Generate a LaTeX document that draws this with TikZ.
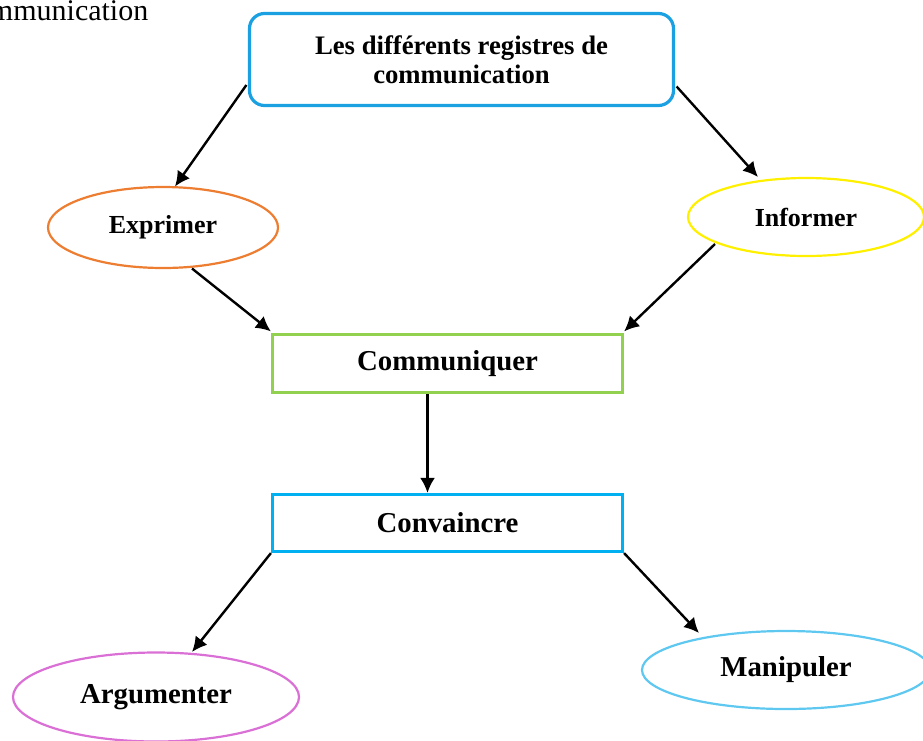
\documentclass[tikz,border=0pt]{standalone}
\usepackage{fontspec}
\setmainfont{Liberation Serif}
\usetikzlibrary{arrows.meta,calc,shapes.geometric}
\definecolor{topblue}{RGB}{27,161,226}
\definecolor{exorange}{RGB}{237,125,49}
\definecolor{infyellow}{RGB}{255,240,0}
\definecolor{comgreen}{RGB}{146,208,80}
\definecolor{convblue}{RGB}{0,176,240}
\definecolor{argpink}{RGB}{218,112,214}
\definecolor{manblue}{RGB}{94,200,240}
\begin{document}
\begin{tikzpicture}[x=1pt,y=-1pt,
  rectbox/.style={draw, rectangle, line width=3.2pt, inner sep=0pt, align=center},
  oval/.style={draw, ellipse, line width=2.2pt, inner sep=0pt, align=center},
  bigfont/.style={font=\bfseries\fontsize{28.8}{34}\selectfont},
  midfont/.style={font=\bfseries\fontsize{26}{30}\selectfont},
  arr/.style={line width=2.4pt, -{Latex[length=15pt,width=15pt]}}]
\useasboundingbox (0,0) rectangle (923,740);
\clip (0,0) rectangle (923,740);

\node[anchor=base east, inner sep=0pt, font=\fontsize{30}{34}\selectfont] (cut) at (148.5,20) {communication};

\node[rectbox, draw=topblue, rounded corners=15pt, minimum width=424pt, minimum height=92pt,
      font=\bfseries\fontsize{26.7}{29}\selectfont] (top) at (461.5,59.5)
      {Les différents registres de\\communication};

\node[oval, draw=exorange, minimum width=230pt, minimum height=81pt, midfont] (ex) at (163,227.5) {Exprimer};
\node[oval, draw=infyellow, minimum width=236pt, minimum height=78pt, midfont] (inf) at (806,217) {Informer};

\node[rectbox, draw=comgreen, minimum width=350pt, minimum height=58pt, bigfont] (com) at (447.5,363.5) {Communiquer};
\node[rectbox, draw=convblue, minimum width=350pt, minimum height=57pt, bigfont] (conv) at (447.5,523) {Convaincre};

\node[oval, draw=argpink, minimum width=286pt, minimum height=89pt, bigfont] (arg) at (156,697) {Argumenter};
\node[oval, draw=manblue, minimum width=288pt, minimum height=78pt, bigfont] (man) at (786,670) {Manipuler};

\draw[arr] ($(top.west)+(-1.5,25.5)$) -- ($(ex.center)+(12,-41)$);
\draw[arr] ($(top.east)+(1.5,27)$) -- ($(inf.center)+(-48,-40)$);
\draw[arr] ($(ex.center)+(29,41)$) -- ($(com.north west)+(0,-1.5)$);
\draw[arr] ($(inf.center)+(-91,27)$) -- ($(com.north east)+(0,-1.5)$);
\draw[arr] ($(com.south)+(-20,0)$) -- ($(conv.north)+(-20,0)$);
\draw[arr] (conv.south west) -- ($(arg.center)+(36,-45)$);
\draw[arr] (conv.south east) -- ($(man.center)+(-87,-37)$);
\end{tikzpicture}
\end{document}
